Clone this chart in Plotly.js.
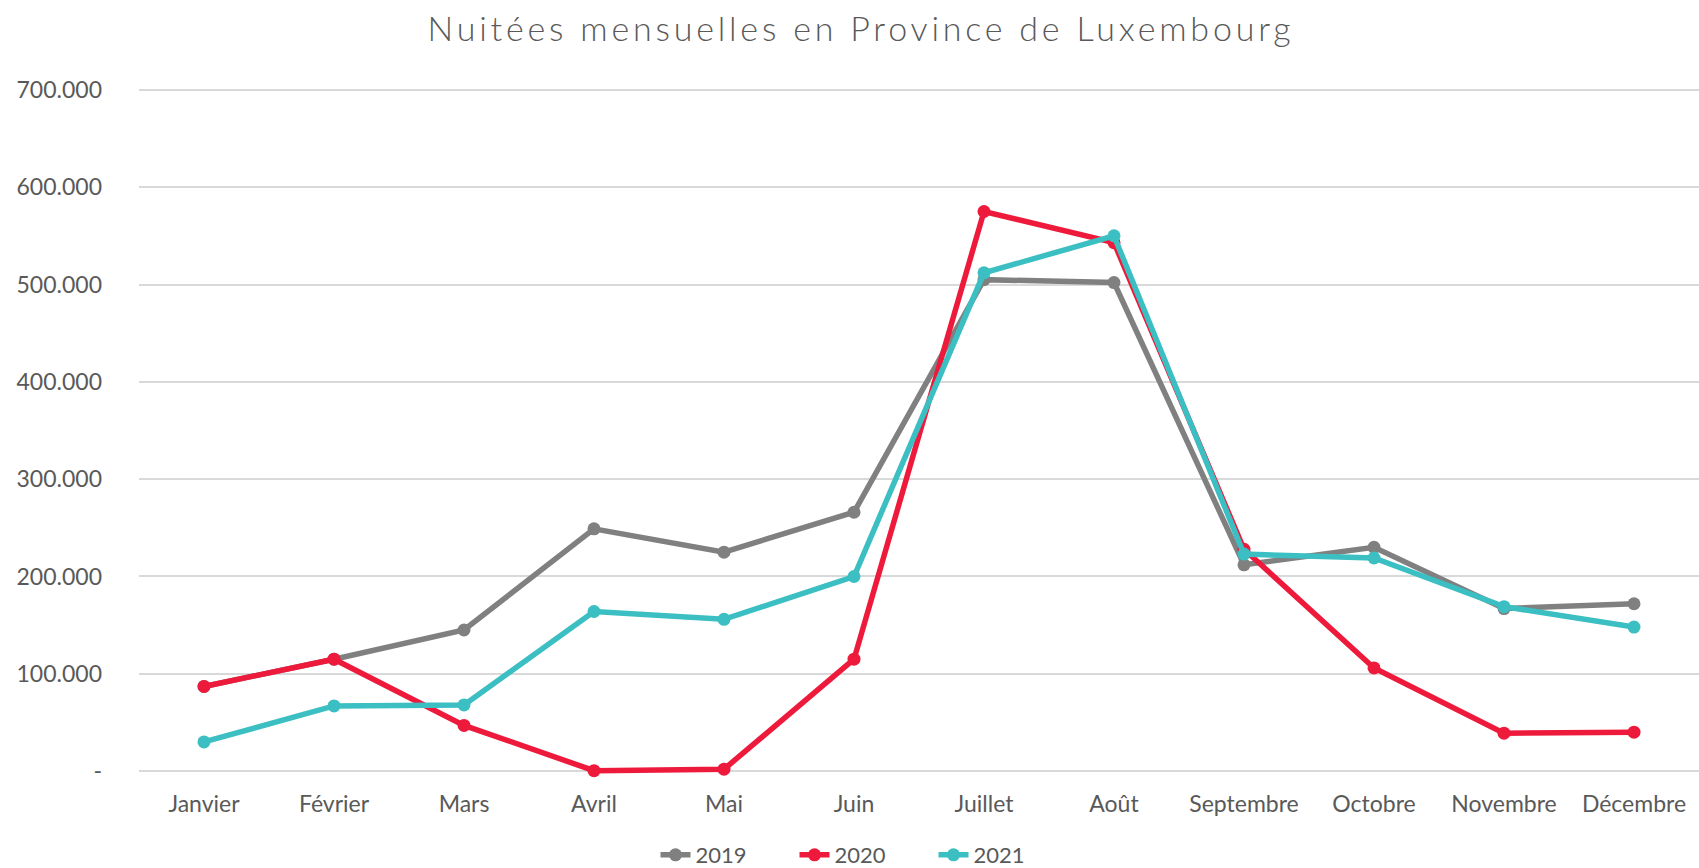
<!DOCTYPE html>
<html>
<head>
<meta charset="utf-8">
<script src="https://cdn.plot.ly/plotly-3.0.1.min.js"></script>
<style>
html,body{margin:0;padding:0;background:#fff;}
#chart{width:1699px;height:868px;}
#chart .gtitle{letter-spacing:3.8px;}
</style>
</head>
<body>
<div id="chart"></div>
<script>
const months = ["Janvier","Février","Mars","Avril","Mai","Juin","Juillet","Août","Septembre","Octobre","Novembre","Décembre"];
const v2019 = [87000,115000,145000,249000,225000,266000,505000,502000,212000,230000,167000,172000];
const v2020 = [87000,115000,47000,500,2000,115000,575000,543000,228000,106000,39000,40000];
const v2021 = [30000,67000,68000,164000,156000,200000,512000,550000,223000,219000,169000,148000];
const yTickVals = [0,100000,200000,300000,400000,500000,600000,700000];
const yTickText = ["-","100.000","200.000","300.000","400.000","500.000","600.000","700.000"];
const seriesNames = ["2019","2020","2021"];
const colors = ["#808080","#EE1A3B","#3BBFC2"];

const data = [v2019, v2020, v2021].map((vals, i) => ({
  x: months, y: vals, name: seriesNames[i], type: "scatter", mode: "lines+markers",
  line: {color: colors[i], width: 5.5},
  marker: {color: colors[i], size: 13},
  cliponaxis: false
}));

const layout = {
  width: 1699, height: 868,
  paper_bgcolor: "#fff", plot_bgcolor: "#fff",
  font: {family: "Lato, 'Open Sans', sans-serif", color: "#595959", size: 23},
  margin: {l: 139, r: 0, t: 85, b: 92},
  title: {text: "Nuitées mensuelles en Province de Luxembourg", font: {size: 34, color: "#595959", family: "Lato, sans-serif", weight: 300},
          x: 861/1699, xref: "container", xanchor: "center", y: 1 - 29/868, yref: "container", yanchor: "middle"},
  xaxis: {type: "category", range: [-0.5, 11.5], showgrid: false, zeroline: false, showline: false,
          ticks: "", ticklabelstandoff: 12, tickfont: {size: 23, color: "#595959"}, fixedrange: true},
  yaxis: {range: [-5000, 705000], tickvals: yTickVals, ticktext: yTickText, showgrid: true, gridcolor: "#d9d9d9", gridwidth: 2,
          zeroline: false, showline: false, ticks: "", tickfont: {size: 23, color: "#595959"}, ticklabelstandoff: 36},
  showlegend: true,
  legend: {orientation: "h", x: (864-139)/1560, xanchor: "center", y: 1 - 855/868, yref: "container", yanchor: "middle",
           font: {size: 22, color: "#595959"}, itemwidth: 30, tracegroupgap: 0, entrywidth: 94, entrywidthmode: "pixels"}
};
Plotly.newPlot("chart", data, layout, {displayModeBar: false, staticPlot: true});
</script>
</body>
</html>
